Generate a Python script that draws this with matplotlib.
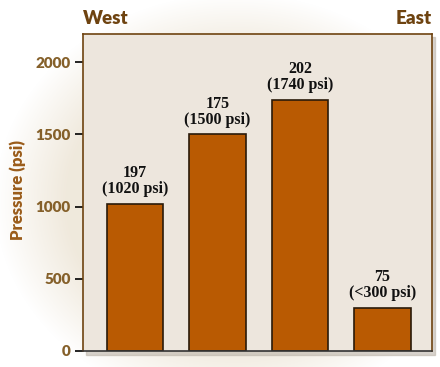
import matplotlib
matplotlib.use('Agg')
import matplotlib.pyplot as plt
import numpy as np

pressure = [1020, 1500, 1740, 300]
wells = ['197', '175', '202', '75']
psi_text = ['(1020 psi)', '(1500 psi)', '(1740 psi)', '(<300 psi)']
yticks = [0, 500, 1000, 1500, 2000]

bar_color = '#B95A02'
brown = '#6E4310'
tick_brown = '#85602A'
panel = '#EDE6DD'

fig = plt.figure(figsize=(4.40, 3.67), dpi=100)
fig.patch.set_facecolor('white')

# parchment-like wash behind the axes
bg = fig.add_axes([0, 0, 1, 1], zorder=0)
bg.axis('off')
yy, xx = np.mgrid[0:367, 0:440]
d = np.sqrt(((xx - 235) / 215.0) ** 2 + ((yy - 200) / 185.0) ** 2)
alpha = np.clip((1.12 - d) * 3.0, 0, 1) * 0.85
img = np.zeros((367, 440, 4))
img[..., 0] = 0.93
img[..., 1] = 0.90
img[..., 2] = 0.84
img[..., 3] = alpha
bg.imshow(img, extent=[0, 440, 367, 0], aspect='auto')
bg.set_xlim(0, 440)
bg.set_ylim(367, 0)

# shadow of panel
bg.add_patch(plt.Rectangle((86, 37), 349, 318, color='#BDB5AA', alpha=0.6, zorder=1))

ax = fig.add_axes([83 / 440, 1 - 351 / 367, 349 / 440, 317 / 367], zorder=1)
ax.set_facecolor(panel)
x = np.arange(len(pressure))
ax.bar(x, pressure, width=0.69, color=bar_color, edgecolor='#2a1a0a', linewidth=1.2)
for i in x:
    ax.text(i, pressure[i] + 45, wells[i] + '\n' + psi_text[i], ha='center', va='bottom',
            fontsize=11.5, fontweight='bold', family='Liberation Serif', color='#111111',
            linespacing=1.0)

ax.set_xlim(-0.63, 3.6)
ax.set_ylim(0, 2195)
ax.set_xticks([])
ax.set_yticks(yticks)
ax.set_yticklabels([str(t) for t in yticks], fontsize=11, fontweight='heavy',
                   color=tick_brown, family='Lato')
ax.tick_params(axis='y', length=6, width=1.2, color='black', pad=3)
for s in ax.spines.values():
    s.set_color(brown)
    s.set_linewidth(1.2)
ax.spines['bottom'].set_color('#333333')

fig.text(18 / 440, 1 - 190 / 367, 'Pressure (psi)', rotation=90, ha='center', va='center',
         fontsize=12, fontweight='heavy', color='#9A5C1A', family='Lato')

fig.text(106 / 440, 1 - 18 / 367, 'West', ha='center', va='center', fontsize=13.5,
         fontweight='heavy', color=brown, family='Lato')
fig.text(414 / 440, 1 - 18 / 367, 'East', ha='center', va='center', fontsize=13.5,
         fontweight='heavy', color=brown, family='Lato')

fig.savefig('out.png', dpi=100)
